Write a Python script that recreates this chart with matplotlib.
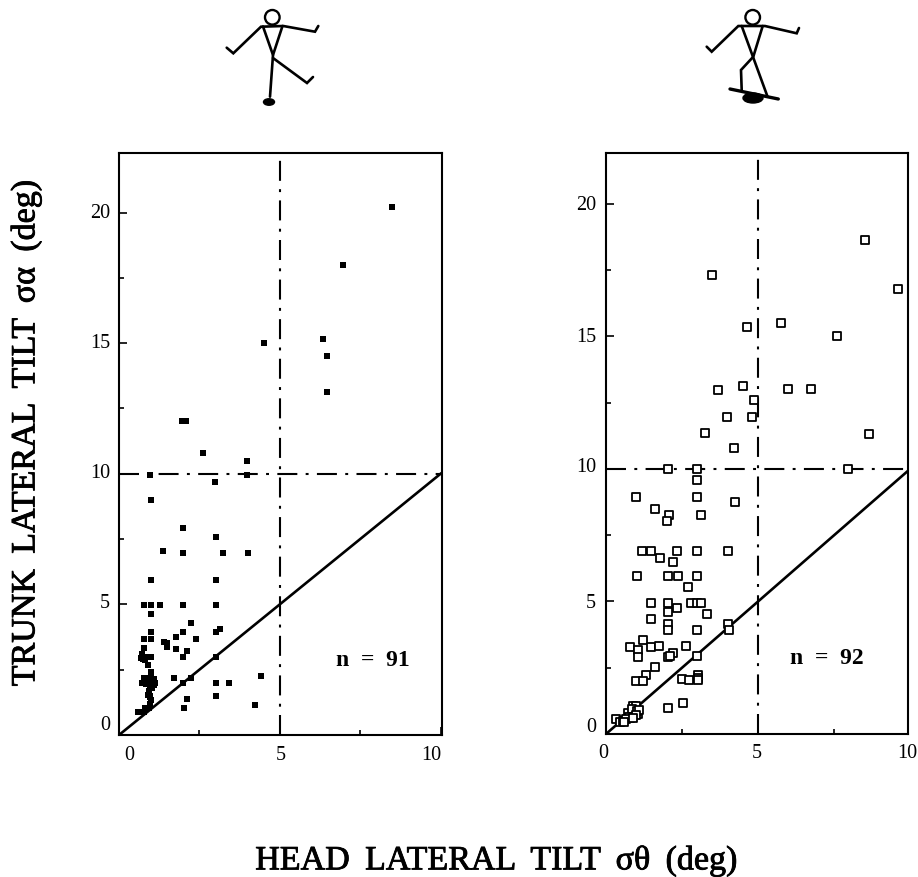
import matplotlib
matplotlib.use("Agg")
import matplotlib.pyplot as plt
import matplotlib.patheffects as pe
from matplotlib.patches import Circle, Ellipse

plt.rcParams['font.family'] = ['Liberation Serif', 'DejaVu Serif']

W, H = 918, 877

# 왼쪽 패널 (filled)
left_x = [8.5, 6.97, 4.5, 6.34, 6.47, 6.47, 1.97, 2.09, 2.6, 3.99, 3.99, 0.97, 3.0, 0.99, 1.99, 3.01, 1.375,
          1.99, 3.24, 4.0, 0.99, 3.01, 0.78, 0.99, 1.27, 1.99, 3.01, 1.0, 2.23, 1.0, 2.0, 3.02, 3.14, 1.77,
          0.79, 1.0, 2.4, 1.39, 1.5, 1.5, 1.78, 2.13, 0.79, 0.73, 0.99, 0.8, 0.85, 0.89, 2.0, 3.02, 1.01,
          0.78, 0.99, 1.72, 2.23, 4.42, 0.73, 0.9, 1.12, 2.0, 3.02, 3.42, 0.92, 0.96, 1.01, 2.13, 3.03,
          4.24, 2.01, 0.92, 0.65, 0.78, 0.85, 1.05, 0.95, 1.1, 0.82, 1.0, 0.88, 0.72, 0.95, 1.03, 0.8,
          0.6, 0.9, 1.0, 0.76, 0.83, 0.68, 0.97, 1.08]
left_y = [20.2, 18.0, 15.0, 15.17, 14.5, 13.15, 12.03, 12.03, 10.8, 10.5, 9.96, 9.96, 9.68, 8.98, 7.93, 7.59,
          7.04, 6.96, 6.96, 6.96, 5.93, 5.93, 4.98, 4.98, 4.98, 4.98, 4.98, 4.64, 4.29, 3.96, 3.96, 3.96,
          4.06, 3.75, 3.68, 3.68, 3.68, 3.55, 3.51, 3.36, 3.28, 3.2, 3.32, 3.0, 3.0, 2.87, 3.0, 2.67, 3.0,
          3.0, 2.4, 2.2, 2.2, 2.2, 2.2, 2.26, 2.0, 2.0, 2.0, 1.98, 1.98, 1.98, 1.7, 1.5, 1.34, 1.37, 1.5,
          1.16, 1.03, 1.03, 0.89, 0.89, 2.2, 2.05, 1.9, 2.15, 2.0, 2.25, 2.1, 3.1, 1.2, 1.8, 1.05, 0.89,
          1.55, 2.1, 2.9, 1.95, 2.95, 1.45, 1.9]

# 오른쪽 패널 (open)
right_x = [8.52, 9.6, 3.49, 4.64, 5.76, 7.6, 3.68, 4.5, 5.99, 6.74, 4.87, 3.98, 4.8, 3.26, 8.65, 7.96,
           4.22, 2.05, 2.98, 2.98, 2.98, 1.0, 4.23, 1.6, 2.07, 2.02, 3.11, 1.18, 1.48, 2.32, 2.98, 4.01,
           1.78, 2.2, 1.02, 2.03, 2.38, 2.99, 2.69, 1.49, 2.03, 2.8, 2.98, 3.14, 2.03, 2.32, 3.31, 1.49,
           2.03, 2.03, 2.99, 4.02, 4.03, 1.21, 0.79, 1.04, 1.49, 1.74, 2.64, 1.04, 2.21, 2.03, 2.1, 3.0,
           1.62, 1.32, 1.0, 1.23, 2.51, 2.72, 3.02, 3.02, 3.02, 2.54, 2.05, 0.9, 1.0, 0.71, 1.06, 0.79,
           0.32, 0.46, 0.95, 0.85, 1.02, 0.75, 0.55, 0.65, 1.1, 0.98, 0.88, 0.6]
right_y = [18.64, 16.8, 17.3, 15.36, 15.5, 15.02, 12.98, 13.13, 13.02, 13.02, 12.6, 11.96, 11.96, 11.36,
           11.32, 10.0, 10.8, 10.0, 10.0, 9.57, 8.96, 8.96, 8.75, 8.48, 8.25, 8.05, 8.26, 6.9, 6.9, 6.9,
           6.9, 6.9, 6.63, 6.49, 5.95, 5.95, 5.95, 5.95, 5.56, 4.94, 4.94, 4.94, 4.94, 4.94, 4.62, 4.75,
           4.54, 4.34, 4.16, 3.91, 3.94, 4.16, 3.94, 3.53, 3.27, 3.16, 3.27, 3.33, 3.33, 2.9, 3.06, 2.9,
           2.93, 2.93, 2.53, 2.21, 2.0, 2.0, 2.09, 2.02, 2.24, 2.11, 2.02, 1.18, 0.99, 1.07, 1.04, 0.79,
           0.77, 0.59, 0.57, 0.44, 0.86, 0.95, 0.85, 0.65, 0.5, 0.55, 0.9, 0.7, 0.62, 0.45]

x_ticks = [0, 5, 10]
y_ticks = [0, 5, 10, 15, 20]
n_labels = ["n  =  91", "n  =  92"]
dashdot = (0, (9.6, 4, 1.4, 4))


def px_axes(x0, y0, x1, y1):
    return fig.add_axes([x0 / W, 1 - y1 / H, (x1 - x0) / W, (y1 - y0) / H])


def setup(ax, xmax, ymax):
    ax.set_xlim(0, xmax)
    ax.set_ylim(0, ymax)
    for s in ax.spines.values():
        s.set_linewidth(1.5)
    ax.set_xticks(x_ticks[:3 if xmax >= 10 else 2])
    ax.set_yticks(y_ticks)
    ax.set_xticks([2.5, 7.5], minor=True)
    ax.set_yticks([2.5, 7.5, 12.5, 17.5], minor=True)
    ax.set_xticklabels([])
    ax.set_yticklabels([])
    ax.tick_params(which='major', direction='in', length=5.5, width=1.2)
    ax.tick_params(which='minor', direction='in', length=3.5, width=1.2)
    ax.axvline(5, color='k', lw=1.5, ls=dashdot)
    ax.axhline(10, color='k', lw=1.5, ls=dashdot)
    ax.plot([0, 10], [0, 10], color='k', lw=1.9)


fig = plt.figure(figsize=(W / 100, H / 100), dpi=100)

# 왼쪽
ax1 = px_axes(119, 152.5, 441.5, 735)
setup(ax1, 10.03, 22.3)
ax1.scatter(left_x, left_y, marker='s', s=18, color='k', linewidths=0, zorder=3)

# 오른쪽
ax2 = px_axes(606, 153, 908, 734)
setup(ax2, 9.93, 21.92)
ax2.scatter(right_x, right_y, marker='s', s=30, facecolors='white', edgecolors='k', linewidths=1.3, zorder=3)

# 전체 오버레이, 픽셀 좌표
ov = fig.add_axes([0, 0, 1, 1], facecolor='none')
ov.set_xlim(0, W)
ov.set_ylim(H, 0)
ov.axis('off')

ov.text(372.5, 660, n_labels[0], fontsize=17, fontweight='bold', ha='center', va='center')
ov.text(827, 659, n_labels[1], fontsize=17, fontweight='bold', ha='center', va='center')

# 눈금 라벨
for v, px in zip(x_ticks, [129, 281, 431]):
    ov.text(px, 755, str(v), fontsize=14.5, ha='center', va='center')
for v, px in zip(x_ticks, [603, 757, 907]):
    ov.text(px, 754, str(v), fontsize=14.5, ha='center', va='center')
for v, py in zip(y_ticks, [725, 603, 474, 343, 213]):
    ov.text(110, py, str(v), fontsize=14.5, ha='right', va='center')
for v, py in zip(y_ticks, [727, 603, 468, 337, 206]):
    ov.text(596, py, str(v), fontsize=14.5, ha='right', va='center')

# 축 제목, 원본이 조금 더 굵어서 stroke 추가
sp = " \u2009"
heavy = [pe.withStroke(linewidth=0.6, foreground='k')]
ov.text(26, 433, sp.join(["TRUNK", "LATERAL", "TILT", "σα", "(deg)"]), fontsize=24.5, rotation=90,
        ha='center', va='center', path_effects=heavy)
ov.text(496.5, 861, sp.join(["HEAD", "LATERAL", "TILT", "σθ", "(deg)"]), fontsize=24.5, ha='center', va='center',
        path_effects=heavy)


def stick(pts, lw=1.9):
    ov.plot([p[0] for p in pts], [p[1] for p in pts], color='k', lw=lw, solid_capstyle='round',
            solid_joinstyle='miter')


# 그림 1
ov.add_patch(Circle((272.3, 17.3), 7.3, fill=False, ec='k', lw=1.7))
stick([(226.7, 47.7), (233.3, 53.3), (261, 26.7), (283.3, 26), (315, 31.7), (318.3, 26)])
stick([(263, 26.5), (273, 55), (282.5, 26)])
stick([(273, 55), (270, 96.7)])
stick([(273, 58), (307, 83), (313, 77)])
ov.add_patch(Ellipse((269, 102), 11, 6.5, color='k'))

# 그림 2
ov.add_patch(Circle((752.7, 17.3), 7.3, fill=False, ec='k', lw=1.7))
stick([(706.7, 46.7), (711.7, 51.7), (738.3, 26), (765, 26), (796.7, 33.3), (799, 28)])
stick([(741.7, 26), (767.3, 96)])
stick([(762.7, 26), (753.3, 56.7), (741, 70), (741.7, 90)])
stick([(730, 89), (778.3, 99)], lw=2.4)
ov.add_patch(Ellipse((753, 98), 20, 10, color='k'))

fig.savefig("out.png", dpi=100)
